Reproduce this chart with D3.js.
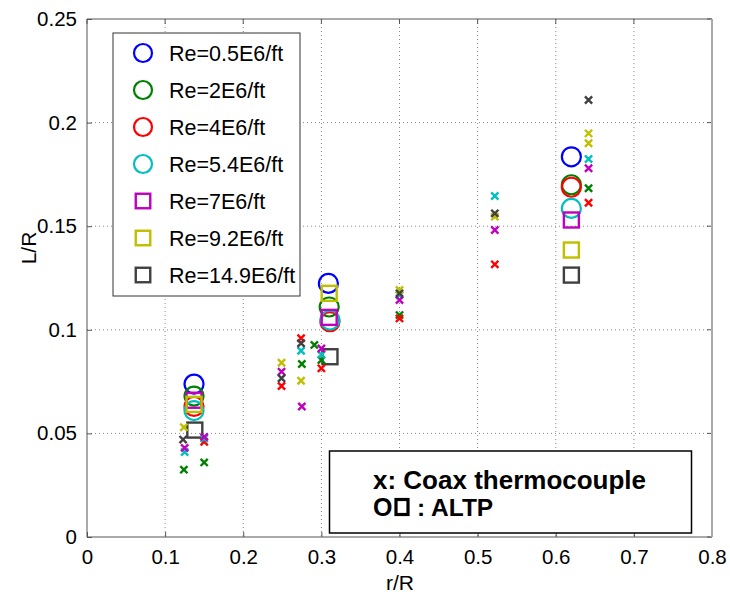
<!DOCTYPE html>
<html><head><meta charset="utf-8">
<script src="https://cdn.jsdelivr.net/npm/d3@7"></script>
<style>html,body{margin:0;padding:0;background:#fff}svg{display:block}</style>
</head><body>
<script>
// ---- data ----
const seriesNames = ["Re=0.5E6/ft","Re=2E6/ft","Re=4E6/ft","Re=5.4E6/ft","Re=7E6/ft","Re=9.2E6/ft","Re=14.9E6/ft"];
const seriesColors = ["#0000ff","#008000","#ff0000","#00bfbf","#bf00bf","#bfbf00","#404040"];
const seriesShapes = ["circle","circle","circle","circle","square","square","square"];
// ALTP measurements (r/R, L/R)
const altpRe05  = [[0.137,0.0738],[0.309,0.1224],[0.620,0.1835]];
const altpRe2   = [[0.137,0.0680],[0.310,0.1110],[0.620,0.1700]];
const altpRe4   = [[0.137,0.0630],[0.311,0.1039],[0.620,0.1688]];
const altpRe54  = [[0.137,0.0610],[0.311,0.1047],[0.620,0.1586]];
const altpRe7   = [[0.137,0.0660],[0.310,0.1060],[0.620,0.1530]];
const altpRe92  = [[0.137,0.0640],[0.310,0.1176],[0.620,0.1385]];
const altpRe149 = [[0.138,0.0516],[0.311,0.0870],[0.620,0.1264]];
// Coax thermocouple measurements (r/R, L/R)
const coaxRe05  = [];
const coaxRe2   = [[0.124,0.0325],[0.150,0.0360],[0.275,0.0835],[0.291,0.0927],[0.300,0.0854],[0.400,0.1071],[0.642,0.1683]];
const coaxRe4   = [[0.150,0.0460],[0.249,0.0729],[0.274,0.0959],[0.300,0.0814],[0.400,0.1055],[0.522,0.1316],[0.642,0.1613]];
const coaxRe54  = [[0.125,0.0410],[0.150,0.0475],[0.274,0.0899],[0.300,0.0880],[0.400,0.1168],[0.522,0.1646],[0.642,0.1824]];
const coaxRe7   = [[0.125,0.0430],[0.150,0.0483],[0.249,0.0798],[0.275,0.0630],[0.300,0.0910],[0.400,0.1144],[0.522,0.1482],[0.642,0.1780]];
const coaxRe92  = [[0.124,0.0530],[0.249,0.0841],[0.274,0.0754],[0.400,0.1192],[0.522,0.1546],[0.642,0.1948],[0.642,0.1900]];
const coaxRe149 = [[0.123,0.0470],[0.249,0.0766],[0.274,0.0935],[0.400,0.1176],[0.522,0.1562],[0.642,0.2109]];
const altpData = [altpRe05,altpRe2,altpRe4,altpRe54,altpRe7,altpRe92,altpRe149];
const coaxData = [coaxRe05,coaxRe2,coaxRe4,coaxRe54,coaxRe7,coaxRe92,coaxRe149];
const xTicks = [0,0.1,0.2,0.3,0.4,0.5,0.6,0.7,0.8];
const yTicks = [0,0.05,0.1,0.15,0.2,0.25];
const xLabel = "r/R", yLabel = "L/R";
const noteLine1 = "x: Coax thermocouple", noteLine2 = ": ALTP";

// ---- layout ----
const W = 730, H = 597;
const L = 87, R = 712, T = 19, B = 537;
const FONT = "'Liberation Sans', Arial, Helvetica, sans-serif";
const svg = d3.select("body").append("svg").attr("width", W).attr("height", H)
  .style("font-family", FONT);
const x = d3.scaleLinear().domain([0,0.8]).range([L,R]);
const y = d3.scaleLinear().domain([0,0.25]).range([B,T]);

// grid
const grid = svg.append("g");
grid.selectAll("line.gx").data(xTicks.filter(t => t > 0 && t < 0.8)).join("line")
  .attr("x1", d => x(d)).attr("x2", d => x(d)).attr("y1", T).attr("y2", B)
  .attr("stroke", "#8a8a8a").attr("stroke-width", 1).attr("stroke-dasharray", "1,3");
grid.selectAll("line.gy").data(yTicks.filter(t => t > 0 && t < 0.25)).join("line")
  .attr("y1", d => y(d)).attr("y2", d => y(d)).attr("x1", L).attr("x2", R)
  .attr("stroke", "#8a8a8a").attr("stroke-width", 1).attr("stroke-dasharray", "1,3");

// axes
const xAxis = d3.axisBottom(x).tickValues(xTicks).tickFormat(d => d3.format("")(+d.toFixed(2))).tickSizeInner(-5).tickSizeOuter(0).tickPadding(12);
const yAxis = d3.axisLeft(y).tickValues(yTicks).tickFormat(d => d3.format("")(+d.toFixed(2))).tickSizeInner(-5).tickSizeOuter(0).tickPadding(10);
const gx = svg.append("g").attr("transform", `translate(0,${B})`).call(xAxis);
const gy = svg.append("g").attr("transform", `translate(${L},0)`).call(yAxis);
[gx, gy].forEach(g => {
  g.select(".domain").remove();
  g.selectAll(".tick line").attr("stroke", "#555");
  g.selectAll(".tick text").attr("font-size", 20.5).attr("fill", "#000").attr("font-family", FONT);
});
// mirrored ticks on top/right
svg.append("g").selectAll("line").data(xTicks).join("line")
  .attr("x1", d => x(d)).attr("x2", d => x(d)).attr("y1", T).attr("y2", T + 5).attr("stroke", "#555");
svg.append("g").selectAll("line").data(yTicks).join("line")
  .attr("y1", d => y(d)).attr("y2", d => y(d)).attr("x1", R).attr("x2", R - 5).attr("stroke", "#555");
// frame
svg.append("line").attr("x1", L).attr("x2", R).attr("y1", T).attr("y2", T).attr("stroke", "#555");
svg.append("line").attr("x1", L).attr("x2", L).attr("y1", T).attr("y2", B).attr("stroke", "#555");
svg.append("line").attr("x1", L).attr("x2", R).attr("y1", B).attr("y2", B).attr("stroke", "#555");
svg.append("line").attr("x1", R).attr("x2", R).attr("y1", T).attr("y2", B).attr("stroke", "#aaa").attr("stroke-width", 2);

// axis labels
svg.append("text").attr("x", 400).attr("y", 590).attr("text-anchor", "middle")
  .attr("font-size", 21).text(xLabel);
svg.append("text").attr("transform", `translate(36,248) rotate(-90)`).attr("text-anchor", "middle")
  .attr("font-size", 21).text(yLabel);

// markers
function drawMarker(g, shape, color, cx, cy, big) {
  if (shape === "circle") {
    g.append("circle").attr("cx", cx).attr("cy", cy).attr("r", big ? 9.5 : 9)
      .attr("fill", "none").attr("stroke", color).attr("stroke-width", 2.2);
  } else {
    const s = big ? 15 : 14.5;
    g.append("rect").attr("x", cx - s / 2).attr("y", cy - s / 2).attr("width", s).attr("height", s)
      .attr("fill", "none").attr("stroke", color).attr("stroke-width", 2.4);
  }
}
const gm = svg.append("g");
altpData.forEach((pts, i) => {
  pts.forEach(p => drawMarker(gm, seriesShapes[i], seriesColors[i], x(p[0]), y(p[1]), true));
});
const gc = svg.append("g");
coaxData.forEach((pts, i) => {
  gc.selectAll(null).data(pts).join("path")
    .attr("d", d => { const cx = x(d[0]), cy = y(d[1]), h = 3.6;
      return `M${cx-h},${cy-h}L${cx+h},${cy+h}M${cx-h},${cy+h}L${cx+h},${cy-h}`; })
    .attr("stroke", seriesColors[i]).attr("stroke-width", 2.4).attr("fill", "none");
});

// legend
const lg = svg.append("g");
lg.append("rect").attr("x", 113).attr("y", 33).attr("width", 187).attr("height", 263)
  .attr("fill", "#fff").attr("stroke", "#333").attr("stroke-width", 1);
const legY = d3.scalePoint().domain(seriesNames).range([53, 275]);
seriesNames.forEach((n, i) => {
  const cy = legY(n);
  drawMarker(lg, seriesShapes[i], seriesColors[i], 143, cy, false);
  lg.append("text").attr("x", 169).attr("y", cy + 8).attr("font-size", 21.5).attr("fill", "#000").text(n);
});

// annotation box
const ng = svg.append("g");
ng.append("rect").attr("x", 329.5).attr("y", 451).attr("width", 362).attr("height", 82)
  .attr("fill", "#fff").attr("stroke", "#000").attr("stroke-width", 1.5);
ng.append("text").attr("x", 373).attr("y", 489).attr("font-size", 26).attr("font-weight", "bold").text(noteLine1);
ng.append("text").attr("x", 373).attr("y", 516).attr("font-size", 25).attr("font-weight", "bold").text("O");
ng.append("rect").attr("x", 396).attr("y", 499.5).attr("width", 12).attr("height", 15)
  .attr("fill", "none").attr("stroke", "#000").attr("stroke-width", 3.2);
ng.append("text").attr("x", 417).attr("y", 516).attr("font-size", 24.5).attr("font-weight", "bold").text(noteLine2);
</script>
</body></html>
